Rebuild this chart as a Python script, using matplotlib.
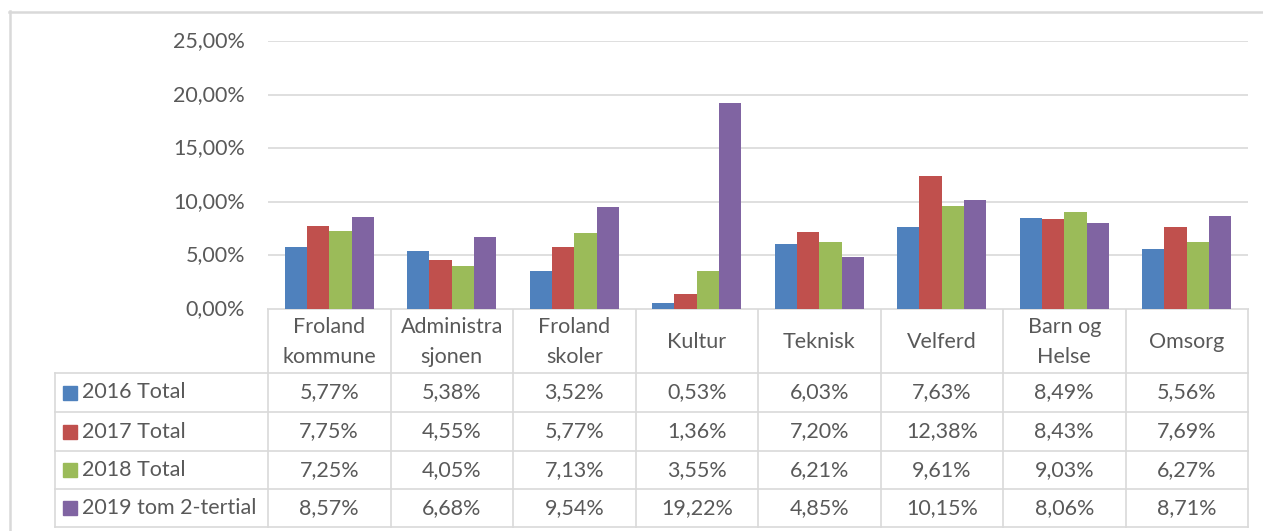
import matplotlib.pyplot as plt
import numpy as np

W, H = 1263, 531
plt.rcParams['font.family'] = ['Lato', 'DejaVu Sans']

categories = ["Froland\nkommune", "Administra\nsjonen", "Froland\nskoler", "Kultur",
              "Teknisk", "Velferd", "Barn og\nHelse", "Omsorg"]
series_names = ["2016 Total", "2017 Total", "2018 Total", "2019 tom 2-tertial"]
v2016 = [5.77, 5.38, 3.52, 0.53, 6.03, 7.63, 8.49, 5.56]
v2017 = [7.75, 4.55, 5.77, 1.36, 7.20, 12.38, 8.43, 7.69]
v2018 = [7.25, 4.05, 7.13, 3.55, 6.21, 9.61, 9.03, 6.27]
v2019 = [8.57, 6.68, 9.54, 19.22, 4.85, 10.15, 8.06, 8.71]
colors = ['#4F81BD', '#C0504D', '#9BBB59', '#8064A2']
yticks = [0, 5, 10, 15, 20, 25]

txt = '#595959'
grid = '#D9D9D9'
fs = 15.5

fig = plt.figure(figsize=(W / 100, H / 100), dpi=100)

# plot area in pixel positions
left, right, top, bottom = 268, 1248, 41, 309
ax = fig.add_axes([left / W, 1 - bottom / H, (right - left) / W, (bottom - top) / H])
series = [v2016, v2017, v2018, v2019]
n = len(categories)
x = np.arange(n)
bw = 0.182
for i, vals in enumerate(series):
    ax.bar(x + (i - 1.5) * bw, vals, width=bw, color=colors[i], zorder=3)
ax.set_xlim(-0.5, n - 0.5)
ax.set_ylim(0, 25)
ax.set_yticks(yticks)
ax.grid(axis='y', color=grid, linewidth=1.2, zorder=0)
ax.set_xticks([])
ax.set_yticklabels([])
ax.tick_params(length=0)
for s in ax.spines.values():
    s.set_visible(False)

# overlay in pixel coordinates for labels, table and border
ov = fig.add_axes([0, 0, 1, 1], zorder=-1)
ov.set_xlim(0, W)
ov.set_ylim(H, 0)
ov.axis('off')

for t in yticks:
    yp = bottom - (bottom - top) * t / 25
    ov.text(245, yp, f"{t:.2f}%".replace('.', ','), ha='right', va='center',
            fontsize=fs, color=txt)

col_w = (right - left) / n
rows = [309, 373, 412, 451, 489, 527]
tab_left = 55
lw = 1.2
# horizontal lines
ov.plot([left, right], [rows[0]] * 2, color=grid, lw=lw)
for r in rows[1:]:
    ov.plot([tab_left, right], [r] * 2, color=grid, lw=lw)
# vertical lines
ov.plot([tab_left] * 2, [rows[1], rows[-1]], color=grid, lw=lw)
for j in range(n + 1):
    xp = left + j * col_w
    ov.plot([xp] * 2, [rows[0], rows[-1]], color=grid, lw=lw)

# header labels
for j, c in enumerate(categories):
    ov.text(left + (j + 0.5) * col_w, (rows[0] + rows[1]) / 2 + 1, c, ha='center',
            va='center', fontsize=fs, color=txt, linespacing=1.6)

# rows
for i, vals in enumerate(series):
    yc = (rows[i + 1] + rows[i + 2]) / 2
    ov.add_patch(plt.Rectangle((63, yc - 7), 14, 14, color=colors[i]))
    ov.text(82, yc, series_names[i], ha='left', va='center', fontsize=fs, color=txt)
    for j, v in enumerate(vals):
        ov.text(left + (j + 0.5) * col_w, yc, f"{v:.2f}%".replace('.', ','),
                ha='center', va='center', fontsize=fs, color=txt)

# outer chart border (only top and left edges visible in the crop)
ov.plot([9, W], [11.5, 11.5], color=grid, lw=1.8)
ov.plot([9.5, 9.5], [11, H], color=grid, lw=1.8)

fig.savefig('out.png', dpi=100)
